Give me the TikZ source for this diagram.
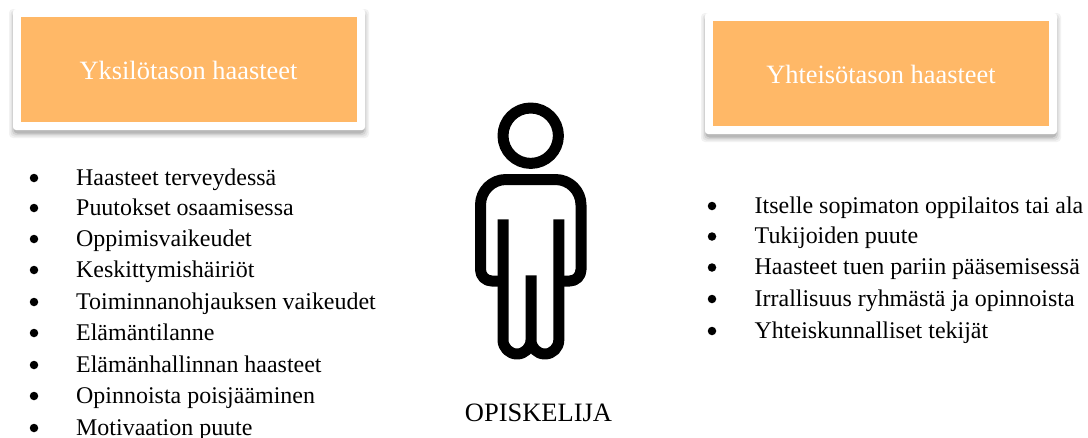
\documentclass[tikz,border=0pt]{standalone}
\usepackage{fontspec}
\setmainfont{Liberation Serif}
\begin{document}
\begin{tikzpicture}[x=1pt,y=-1pt,
  card/.style={fill=white,rounded corners=3pt,inner sep=0pt},
  panel/.style={fill=orangefill,inner sep=0pt},
  title/.style={text=white,font=\fontsize{26.4}{30}\selectfont,inner sep=0pt,anchor=base},
  item/.style={font=\fontsize{23.95}{28}\selectfont,inner sep=0pt,anchor=base west,text=black},
  dot/.style={circle,fill=black,inner sep=0pt,minimum size=8.5pt},
  figure/.style={draw=black,line width=11pt,line join=round}]
\definecolor{orangefill}{RGB}{255,184,103}
\useasboundingbox (0,0) rectangle (1088,437);
% card shadows
\foreach \o/\e in {0.05/5,0.06/3.5,0.08/2,0.12/0.5}{
  \fill[black,opacity=\o,rounded corners=4pt] (13-\e+1,9+5-\e) rectangle (365+\e-1,130+3+\e);
  \fill[black,opacity=\o,rounded corners=4pt] (705-\e+1,13+5-\e) rectangle (1057+\e-1,134+3+\e);
}
\fill[card] (13,9) rectangle (365,130);
\fill[card] (705,13) rectangle (1057,134);
\fill[panel] (21,17) rectangle (357,122);
\fill[panel] (713,21) rectangle (1049,126);
\node[title] (ltitle) at (188.5,79.5) {Yksilötason haasteet};
\node[title] (rtitle) at (881,83.5) {Yhteisötason haasteet};
% person
\draw[figure] (530.7,135.7) circle (27.7);
\draw[figure] (503,219.3) -- (503,340) .. controls (503,347.7) and (509.3,354) .. (517,354)
  .. controls (524.7,354) and (531,347.7) .. (531,340) -- (531,275.3)
  (531,340) .. controls (531,347.7) and (537.1,354) .. (544.9,354)
  .. controls (552.6,354) and (558.8,347.7) .. (558.8,340) -- (558.8,219.3);
\draw[figure] (503,281) -- (491.7,281) .. controls (485.5,281) and (480.5,275.9) .. (480.5,269.7) -- (480.5,205)
  .. controls (480.5,190.9) and (491.9,179.5) .. (506,179.5) -- (555.5,179.5)
  .. controls (569.6,179.5) and (581,190.9) .. (581,205) -- (581,269.7)
  .. controls (581,275.9) and (576,281) .. (569.8,281) -- (558.8,281);
\node[font=\fontsize{26.5}{30}\selectfont,inner sep=0pt,anchor=base] (student) at (538.5,421) {OPISKELIJA};
% left list
\foreach \n/\y/\t in {l1/185/Haasteet terveydessä,l2/215/Puutokset osaamisessa,l3/246/Oppimisvaikeudet,l4/277/Keskittymishäiriöt,l5/309/Toiminnanohjauksen vaikeudet,l6/340/Elämäntilanne,l7/372/Elämänhallinnan haasteet,l8/403/Opinnoista poisjääminen,l9/435/Motivaation puute}{
  \node[dot] (b\n) at (34,\y-7) {};
  \node[item] (\n) at (76,\y) {\t};
}
% right list
\foreach \n/\y/\t in {r1/213/Itselle sopimaton oppilaitos tai ala,r2/243.5/Tukijoiden puute,r3/274.5/Haasteet tuen pariin pääsemisessä,r4/306/Irrallisuus ryhmästä ja opinnoista,r5/338/Yhteiskunnalliset tekijät}{
  \node[dot] (b\n) at (712,\y-7) {};
  \node[item] (\n) at (754.5,\y) {\t};
}
\end{tikzpicture}
\end{document}
